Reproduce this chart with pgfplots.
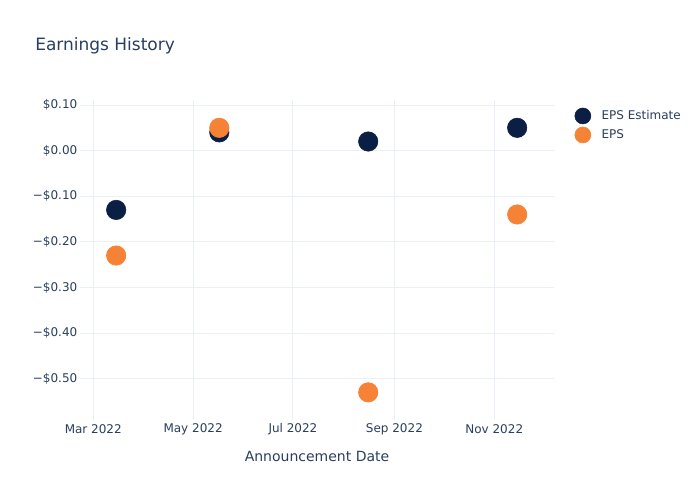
\documentclass[border=0pt]{standalone}
\usepackage{fontspec}
\setmainfont{DejaVu Sans}
\usepackage{pgfplots}
\pgfplotsset{compat=1.18}
\definecolor{txt}{HTML}{2A3F5F}
\definecolor{grd}{HTML}{EBF0F8}
\definecolor{navy}{HTML}{0B1F45}
\definecolor{orng}{HTML}{F58235}
\begin{document}
\begin{tikzpicture}
\useasboundingbox (0,0) rectangle (525pt,375pt);
\fill[white] (0,0) rectangle (525pt,375pt);
\node[anchor=west, font=\fontsize{12.75}{15}\selectfont, text=txt, inner sep=0pt] at (26.25pt,340.5pt) {Earnings History};
\begin{axis}[
  at={(60pt,60pt)}, anchor=south west,
  scale only axis, width=355.5pt, height=240pt,
  xmin=50.9, xmax=340.5, ymin=-0.5906, ymax=0.111,
  axis line style={draw=none},
  tick style={draw=none},
  grid=major,
  major grid style={draw=grd, line width=0.75pt},
  xtick={59,120,181,243,304},
  xticklabels={Mar 2022, May 2022, Jul 2022, Sep 2022, Nov 2022},
  ytick={-0.5,-0.4,-0.3,-0.2,-0.1,0,0.1},
  yticklabels={−\$0.50,−\$0.40,−\$0.30,−\$0.20,−\$0.10,\$0.00,\$0.10},
  extra y ticks={0},
  extra y tick labels={},
  extra y tick style={grid style={draw=grd, line width=1.5pt}},
  ticklabel style={font=\fontsize{9}{11}\selectfont, text=txt},
  xticklabel style={anchor=center, yshift=-7pt},
  yticklabel style={anchor=east, xshift=1.5pt},
  xlabel={Announcement Date},
  xlabel style={at={(axis description cs:0.5,0)}, anchor=center, yshift=-27pt, font=\fontsize{10.5}{12}\selectfont, text=txt},
  legend style={at={(1.035,0.985)}, anchor=north west, draw=none, fill=none,
    font=\fontsize{9}{11}\selectfont, text=txt, row sep=2pt,
    cells={anchor=west}},
  legend image code/.code={\path[draw=none,fill=none] (0cm,0cm) rectangle (0.2cm+12pt,0.01pt); \draw[#1, mark size=6pt] plot coordinates {(0.2cm,0cm)};},
]
\addplot[only marks, color=navy, mark=*, mark size=7.3pt, mark options={fill=navy, draw=navy, line width=0.4pt}]
  coordinates {(73,-0.13) (136,0.04) (227,0.02) (318,0.05)};
\addlegendentry{EPS Estimate}
\addplot[only marks, color=orng, mark=*, mark size=7.3pt, mark options={fill=orng, draw=orng, line width=0.4pt}]
  coordinates {(73,-0.23) (136,0.05) (227,-0.53) (318,-0.14)};
\addlegendentry{EPS}
\end{axis}
\end{tikzpicture}
\end{document}
